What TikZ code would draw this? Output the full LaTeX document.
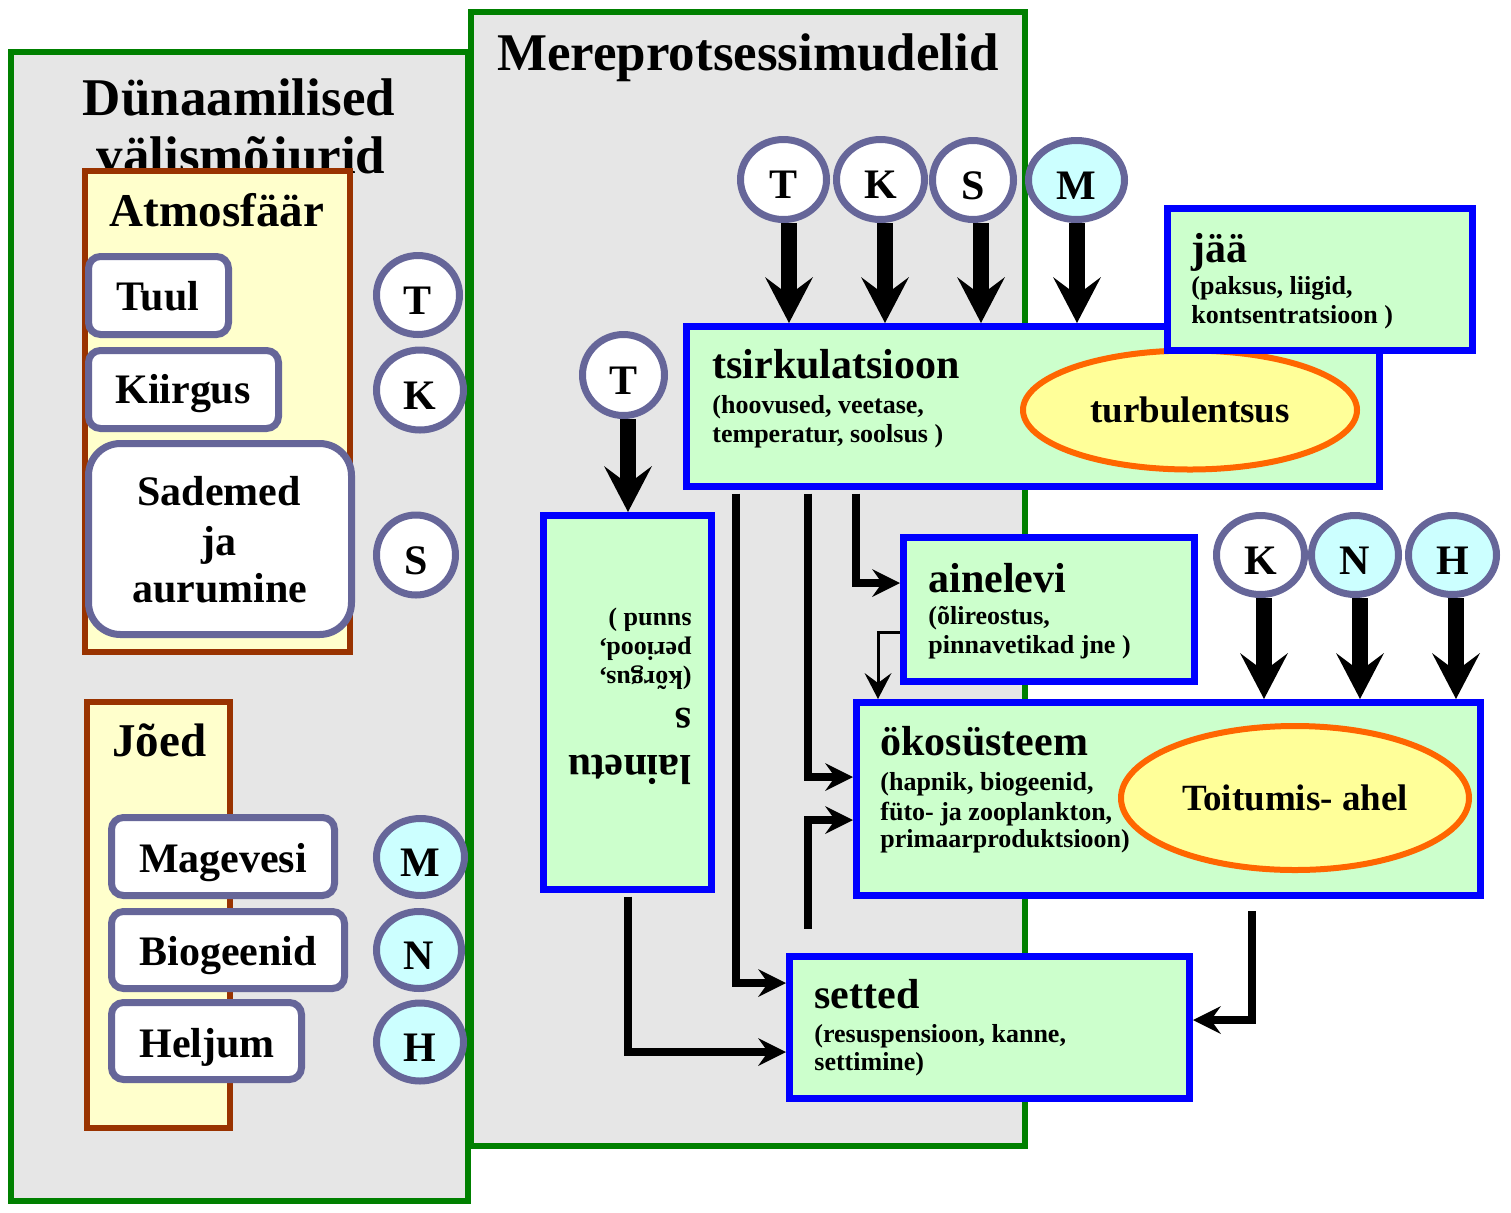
\documentclass[tikz,border=0pt]{standalone}
\usepackage{fontspec}
\setmainfont{Liberation Serif}
\usetikzlibrary{arrows.meta,shapes.geometric,fit,calc}
\definecolor{panelgray}{HTML}{E6E6E6}
\definecolor{dgreen}{HTML}{008000}
\definecolor{brownc}{HTML}{993300}
\definecolor{lyellow}{HTML}{FFFFCC}
\definecolor{purp}{HTML}{666699}
\definecolor{lcyan}{HTML}{CCFFFF}
\definecolor{lgreen}{HTML}{CCFFCC}
\definecolor{ovalfill}{HTML}{FFFF99}
\definecolor{orng}{HTML}{FF6600}
\newcommand\fsz[1]{\fontsize{#1}{#1}\selectfont\bfseries}
\begin{document}
\begin{tikzpicture}[x=0.5pt,y=-0.5pt,
  panel/.style={draw=dgreen, line width=3pt, fill=panelgray, inner sep=0pt},
  group/.style={draw=brownc, line width=3pt, fill=lyellow, inner sep=0pt},
  item/.style={draw=purp, line width=3.5pt, fill=white, rounded corners=6pt, inner sep=0pt},
  circ/.style={ellipse, draw=purp, line width=3.5pt, fill=white, inner sep=0pt,
     font=\fsz{21pt}, text height=19pt, text depth=0pt},
  circc/.style={circ, fill=lcyan},
  proc/.style={draw=blue, line width=3.5pt, fill=lgreen, inner sep=0pt},
  oval/.style={ellipse, draw=orng, line width=3pt, fill=ovalfill, inner sep=0pt, font=\fsz{18.5pt}},
  lbl/.style={inner sep=0pt, anchor=base west},
  big/.style={lbl, font=\fsz{21pt}},
  small/.style={lbl, font=\fsz{13pt}},
  bigarrow/.style={line width=8pt, -{Stealth[length=23pt,width=24pt,inset=9pt,line width=0pt]}},
  conn/.style={line width=4pt, shorten <=1.75pt, -{Stealth[length=14pt,width=14pt,inset=5pt,line width=0pt]}},
  thinconn/.style={line width=1.5pt, -{Stealth[length=13pt,width=13.5pt,inset=5pt,line width=0pt]}}
]
\useasboundingbox (0,0) rectangle (1511,1212);

% ---------- left panel ----------
\node[panel, fit={(11,52) (468,1201)}] (leftp) {};
\node[lbl, anchor=base, font=\fsz{26.5pt}] (ltitleA) at (239,115) {Dünaamilised};
\node[lbl, anchor=base, font=\fsz{26.5pt}] (ltitleB) at (241,173) {välismõjurid};

\node[group, fit={(85,171) (350,652)}] (atm) {};
\node[lbl, anchor=base, font=\fsz{23.5pt}] (atmT) at (217,226) {Atmosfäär};
\node[item, fit={(88.5,256.5) (228.5,334.5)}] (tuul) {};
\node[lbl, anchor=base, font=\fsz{21pt}] (tuulT) at (158,310) {Tuul};
\node[item, fit={(88.5,350.5) (278.5,428.5)}] (kiirg) {};
\node[lbl, anchor=base, font=\fsz{21pt}] (kiirgT) at (183,403) {Kiirgus};
\node[item, rounded corners=16pt, fit={(88.5,443.5) (351.5,634.5)}] (sadem) {};
\node[lbl, anchor=base, font=\fsz{21pt}] (sademA) at (219,505) {Sademed};
\node[lbl, anchor=base, font=\fsz{21pt}] (sademB) at (219,555) {ja};
\node[lbl, anchor=base, font=\fsz{21pt}] (sademC) at (220,602) {aurumine};

\node[group, fit={(87,702) (230,1128)}] (joed) {};
\node[lbl, font=\fsz{23.5pt}] (joedT) at (112,756) {Jõed};
\node[item, fit={(111.5,817.5) (334.5,895.5)}] (mage) {};
\node[lbl, anchor=base, font=\fsz{21pt}] (mageT) at (223,872) {Magevesi};
\node[item, fit={(111.5,911.5) (344.5,988.5)}] (biog) {};
\node[lbl, anchor=base, font=\fsz{21pt}] (biogT) at (228,965) {Biogeenid};
\node[item, fit={(111.5,1002.5) (301.5,1079.5)}] (helj) {};
\node[lbl, anchor=base, font=\fsz{21pt}] (heljT) at (207,1057) {Heljum};

\node[circ, minimum width=41.5pt, minimum height=39.5pt] (lT) at (418,295) {T};
\node[circ, minimum width=43.5pt, minimum height=40pt] (lK) at (420,390) {K};
\node[circ, minimum width=39.5pt, minimum height=40pt] (lS) at (416,555) {S};
\node[circc, minimum width=44pt, minimum height=38.5pt] (lM) at (420.5,857) {M};
\node[circc, minimum width=42.5pt, minimum height=38.5pt] (lN) at (419,950) {N};
\node[circc, minimum width=43.5pt, minimum height=39pt] (lH) at (420,1042) {H};

% ---------- right panel ----------
\node[panel, fit={(471,11.5) (1025,1146)}] (rightp) {};
\node[lbl, anchor=base, font=\fsz{26.5pt}] (rtitle) at (748,70) {Mereprotsessimudelid};

% process boxes
\node[proc, fit={(686.5,326.5) (1379.5,486.5)}] (tsirk) {};
\node[oval, minimum width=167pt, minimum height=59.5pt] (turb) at (1190,410) {turbulentsus};
\node[big] (tsirkA) at (712,378) {tsirkulatsioon};
\node[small] (tsirkB) at (712,413) {(hoovused, veetase,};
\node[small] (tsirkC) at (712,442) {temperatur, soolsus )};

\node[proc, fit={(1167.5,208.5) (1472.5,350.5)}] (jaa) {};
\node[big] (jaaA) at (1191,262) {jää};
\node[small] (jaaB) at (1191,294) {(paksus, liigid,};
\node[small] (jaaC) at (1191,323) {kontsentratsioon )};

\node[proc, fit={(543.5,515.5) (711.5,889.5)}] (lain) {};
\node[big, rotate=180] (lainA) at (692,755) {lainetu};
\node[big, rotate=180] (lainB) at (692,708) {s};
\node[small, rotate=180] (lainC) at (692,671) {(kõrgus,};
\node[small, rotate=180] (lainD) at (692,642) {periood,};
\node[small, rotate=180] (lainE) at (692,613) {suund )};

\node[proc, fit={(903.5,537.5) (1194.5,681.5)}] (aine) {};
\node[big] (aineA) at (928,592) {ainelevi};
\node[small] (aineB) at (928,624) {(õlireostus,};
\node[small] (aineC) at (928,653) {pinnavetikad jne )};

\node[proc, fit={(856.5,702.5) (1480.5,895.5)}] (eko) {};
\node[oval, minimum width=174pt, minimum height=72pt] (toit) at (1295,798) {Toitumis- ahel};
\node[big] (ekoA) at (880,755) {ökosüsteem};
\node[small] (ekoB) at (880,790) {(hapnik, biogeenid,};
\node[small] (ekoC) at (880,820) {füto- ja zooplankton,};
\node[small] (ekoD) at (880,847) {primaarproduktsioon)};

\node[proc, fit={(789.5,956.5) (1189.5,1098.5)}] (sett) {};
\node[big] (settA) at (814,1008) {setted};
\node[small] (settB) at (814,1042) {(resuspensioon, kanne,};
\node[small] (settC) at (814,1070) {settimine)};

% circles in right panel
\node[circ, minimum width=43pt, minimum height=40pt] (tT) at (783.5,179.5) {T};
\node[circ, minimum width=44pt, minimum height=40pt] (tK) at (880.5,179.5) {K};
\node[circ, minimum width=40.5pt, minimum height=39.5pt] (tS) at (973,180) {S};
\node[circc, minimum width=48pt, minimum height=39.5pt] (tM) at (1076.5,180) {M};
\node[circ, minimum width=41pt, minimum height=40.5pt] (wT) at (623.5,375) {T};
\node[circ, minimum width=44pt, minimum height=39.5pt] (bK) at (1260.5,555) {K};
\node[circc, minimum width=43.5pt, minimum height=39.5pt] (bN) at (1355,555) {N};
\node[circc, minimum width=44pt, minimum height=39.5pt] (bH) at (1452.5,555) {H};

% big arrows
\coordinate (aT) at ($(tT.south)+(5.5,0)$);
\coordinate (aK) at ($(tK.south)+(4.5,0)$);
\coordinate (aS) at ($(tS.south)+(8,0)$);
\coordinate (aM) at ($(tM.south)+(0.5,0)$);
\coordinate (aW) at ($(wT.south)+(4.5,0)$);
\coordinate (bKa) at ($(bK.south)+(3.5,0)$);
\coordinate (bNa) at ($(bN.south)+(5,0)$);
\coordinate (bHa) at ($(bH.south)+(3.5,0)$);
\draw[bigarrow] (aT) -- (aT |- tsirk.north);
\draw[bigarrow] (aK) -- (aK |- tsirk.north);
\draw[bigarrow] (aS) -- (aS |- tsirk.north);
\draw[bigarrow] (aM) -- (aM |- tsirk.north);
\draw[bigarrow] (aW) -- (aW |- lain.north);
\draw[bigarrow] (bKa) -- (bKa |- eko.north);
\draw[bigarrow] (bNa) -- (bNa |- eko.north);
\draw[bigarrow] (bHa) -- (bHa |- eko.north);

% connectors
\coordinate (k1) at (736,983);
\coordinate (k2) at (808,777);
\coordinate (k3) at (856,583);
\coordinate (k4) at (878,632);
\coordinate (k5) at (808,932);
\coordinate (k6) at (808,820);
\coordinate (k7) at (628,1052);
\coordinate (k8) at (1252,1020);
\draw[conn] (tsirk.south -| k1) |- (sett.west |- k1);
\draw[conn] (tsirk.south -| k2) |- (eko.west |- k2);
\draw[conn] (tsirk.south -| k3) |- (aine.west |- k3);
\draw[thinconn] (aine.west |- k4) -| (eko.north -| k4);
\draw[conn] (k5) -- (k6) -- (eko.west |- k6);
\draw[conn] (lain.south -| k7) |- (sett.west |- k7);
\draw[conn, shorten <=6pt] (eko.south -| k8) |- (sett.east |- k8);
\end{tikzpicture}
\end{document}
